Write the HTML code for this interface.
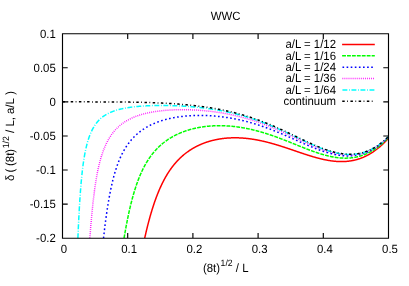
<!DOCTYPE html>
<html><head><meta charset="utf-8"><title>WWC</title>
<style>html,body{margin:0;padding:0;background:#fff;overflow:hidden}body{width:409px;height:286px;position:relative;font-family:"Liberation Sans",sans-serif}</style></head>
<body>
<div style="will-change:transform;position:absolute;left:0;top:0;width:409px;height:286px">
<svg width="409" height="286" viewBox="0 0 409 286" style="display:block;position:absolute;left:0;top:0" font-family="Liberation Sans, sans-serif" font-size="11.40" fill="#000" text-rendering="geometricPrecision">
<rect width="409" height="286" fill="#fff"/>
<defs><clipPath id="cp"><rect x="62.50" y="33.70" width="326.00" height="204.50"/></clipPath></defs>
<g fill="none" stroke-width="1.50" stroke-linejoin="round" clip-path="url(#cp)">
<polyline points="144.70,238.20 144.98,236.94 145.30,235.49 145.63,234.07 145.96,232.66 146.28,231.28 146.61,229.92 146.93,228.57 147.26,227.25 147.59,225.94 147.91,224.65 148.24,223.39 148.56,222.14 148.89,220.91 149.22,219.69 149.54,218.50 149.87,217.32 150.19,216.16 150.52,215.02 150.85,213.89 151.17,212.78 151.50,211.69 151.82,210.61 152.15,209.55 152.48,208.51 152.80,207.48 153.13,206.46 153.45,205.46 153.78,204.48 154.11,203.51 154.43,202.55 154.76,201.61 155.08,200.69 155.41,199.77 155.74,198.87 156.06,197.99 156.39,197.11 156.71,196.25 157.04,195.40 157.37,194.57 157.69,193.75 158.02,192.94 158.34,192.14 158.67,191.35 159.00,190.57 159.32,189.81 159.65,189.06 159.97,188.32 160.30,187.59 160.63,186.87 160.95,186.16 161.28,185.46 161.60,184.77 161.93,184.09 162.26,183.42 162.58,182.76 162.91,182.11 163.23,181.47 163.56,180.84 163.89,180.22 164.21,179.60 164.54,179.00 164.86,178.40 165.19,177.82 165.52,177.24 165.84,176.67 166.17,176.11 166.49,175.55 166.82,175.01 167.15,174.47 167.47,173.93 167.80,173.41 168.12,172.89 168.45,172.39 168.78,171.88 169.10,171.39 169.43,170.90 169.75,170.42 170.08,169.94 170.41,169.48 170.73,169.01 171.06,168.56 171.38,168.11 171.71,167.67 172.04,167.23 172.36,166.80 172.69,166.37 173.01,165.95 173.34,165.54 173.67,165.13 173.99,164.73 174.32,164.33 174.64,163.94 174.97,163.55 175.30,163.17 175.62,162.79 175.95,162.42 176.27,162.05 176.60,161.69 176.93,161.33 177.25,160.98 177.58,160.63 177.90,160.29 178.23,159.95 178.56,159.61 178.88,159.28 179.21,158.96 179.53,158.63 179.86,158.32 180.19,158.00 180.51,157.69 180.84,157.39 181.16,157.08 181.49,156.79 181.82,156.49 182.14,156.20 182.47,155.91 182.79,155.63 183.12,155.35 183.45,155.07 183.77,154.80 184.10,154.53 184.42,154.26 184.75,154.00 185.08,153.74 185.40,153.49 185.73,153.23 186.05,152.98 186.38,152.74 186.71,152.49 187.03,152.25 187.36,152.01 187.68,151.78 188.01,151.55 188.34,151.32 188.66,151.09 188.99,150.87 189.31,150.65 189.64,150.43 189.97,150.21 190.29,150.00 190.62,149.79 190.94,149.58 191.27,149.38 191.60,149.18 191.92,148.98 192.25,148.78 192.57,148.59 192.90,148.39 193.23,148.20 193.55,148.02 193.88,147.83 194.20,147.65 194.53,147.47 194.86,147.29 195.18,147.11 195.51,146.94 195.83,146.77 196.16,146.60 196.49,146.43 196.81,146.26 197.14,146.10 197.46,145.94 197.79,145.78 198.12,145.62 198.44,145.47 198.77,145.31 199.09,145.16 199.42,145.01 199.75,144.87 200.07,144.72 200.40,144.58 200.72,144.44 201.05,144.30 201.38,144.16 201.70,144.02 202.03,143.89 202.35,143.76 202.68,143.63 203.01,143.50 203.33,143.37 203.66,143.24 203.98,143.12 204.31,143.00 204.64,142.88 204.96,142.76 205.29,142.64 205.61,142.53 205.94,142.41 206.27,142.30 206.59,142.19 206.92,142.08 207.24,141.98 207.57,141.87 207.90,141.77 208.22,141.67 208.55,141.56 208.87,141.47 209.20,141.37 209.53,141.27 209.85,141.18 210.18,141.08 210.50,140.99 210.83,140.90 211.16,140.81 211.48,140.73 211.81,140.64 212.13,140.56 212.46,140.47 212.79,140.39 213.11,140.31 213.44,140.23 213.76,140.15 214.09,140.08 214.42,140.00 214.74,139.93 215.07,139.86 215.39,139.79 215.72,139.72 216.05,139.65 216.37,139.59 216.70,139.52 217.02,139.46 217.35,139.39 217.68,139.33 218.00,139.27 218.33,139.21 218.65,139.16 218.98,139.10 219.31,139.05 219.63,138.99 219.96,138.94 220.28,138.89 220.61,138.84 220.94,138.79 221.26,138.74 221.59,138.70 221.91,138.65 222.24,138.61 222.57,138.57 222.89,138.52 223.22,138.48 223.54,138.45 223.87,138.41 224.20,138.37 224.52,138.34 224.85,138.30 225.17,138.27 225.50,138.24 225.83,138.21 226.15,138.18 226.48,138.15 226.80,138.12 227.13,138.09 227.46,138.07 227.78,138.04 228.11,138.02 228.43,138.00 228.76,137.98 229.09,137.96 229.41,137.94 229.74,137.92 230.06,137.91 230.39,137.89 230.72,137.88 231.04,137.87 231.37,137.85 231.69,137.84 232.02,137.83 232.35,137.82 232.67,137.82 233.00,137.81 233.32,137.80 233.65,137.80 233.98,137.80 234.30,137.79 234.63,137.79 234.95,137.79 235.28,137.79 235.61,137.79 235.93,137.80 236.26,137.80 236.58,137.80 236.91,137.81 237.24,137.82 237.56,137.82 237.89,137.83 238.21,137.84 238.54,137.85 238.87,137.87 239.19,137.88 239.52,137.89 239.84,137.91 240.17,137.92 240.50,137.94 240.82,137.96 241.15,137.97 241.47,137.99 241.80,138.01 242.13,138.03 242.45,138.06 242.78,138.08 243.10,138.10 243.43,138.13 243.76,138.15 244.08,138.18 244.41,138.21 244.73,138.24 245.06,138.27 245.39,138.30 245.71,138.33 246.04,138.36 246.36,138.39 246.69,138.43 247.02,138.46 247.34,138.50 247.67,138.54 247.99,138.57 248.32,138.61 248.65,138.65 248.97,138.69 249.30,138.73 249.62,138.77 249.95,138.82 250.28,138.86 250.60,138.90 250.93,138.95 251.25,139.00 251.58,139.04 251.91,139.09 252.23,139.14 252.56,139.19 252.88,139.24 253.21,139.29 253.54,139.34 253.86,139.39 254.19,139.45 254.51,139.50 254.84,139.56 255.17,139.61 255.49,139.67 255.82,139.73 256.14,139.79 256.47,139.84 256.80,139.90 257.12,139.97 257.45,140.03 257.77,140.09 258.10,140.15 258.43,140.22 258.75,140.28 259.08,140.34 259.40,140.41 259.73,140.48 260.06,140.54 260.38,140.61 260.71,140.68 261.03,140.75 261.36,140.82 261.69,140.89 262.01,140.96 262.34,141.04 262.66,141.11 262.99,141.18 263.32,141.26 263.64,141.33 263.97,141.41 264.29,141.48 264.62,141.56 264.95,141.64 265.27,141.72 265.60,141.80 265.92,141.88 266.25,141.96 266.58,142.04 266.90,142.12 267.23,142.20 267.55,142.28 267.88,142.37 268.21,142.45 268.53,142.54 268.86,142.62 269.18,142.71 269.51,142.79 269.84,142.88 270.16,142.97 270.49,143.06 270.81,143.15 271.14,143.23 271.47,143.32 271.79,143.41 272.12,143.51 272.44,143.60 272.77,143.69 273.10,143.78 273.42,143.87 273.75,143.97 274.07,144.06 274.40,144.16 274.73,144.25 275.05,144.35 275.38,144.44 275.70,144.54 276.03,144.64 276.36,144.73 276.68,144.83 277.01,144.93 277.33,145.03 277.66,145.13 277.99,145.23 278.31,145.33 278.64,145.43 278.96,145.53 279.29,145.63 279.62,145.73 279.94,145.83 280.27,145.94 280.59,146.04 280.92,146.14 281.25,146.25 281.57,146.35 281.90,146.45 282.22,146.56 282.55,146.66 282.88,146.77 283.20,146.87 283.53,146.98 283.85,147.09 284.18,147.19 284.51,147.30 284.83,147.41 285.16,147.51 285.48,147.62 285.81,147.73 286.14,147.84 286.46,147.94 286.79,148.05 287.11,148.16 287.44,148.27 287.77,148.38 288.09,148.49 288.42,148.60 288.74,148.71 289.07,148.82 289.40,148.93 289.72,149.04 290.05,149.15 290.37,149.26 290.70,149.37 291.03,149.48 291.35,149.59 291.68,149.70 292.00,149.81 292.33,149.92 292.66,150.03 292.98,150.15 293.31,150.26 293.63,150.37 293.96,150.48 294.29,150.59 294.61,150.70 294.94,150.81 295.26,150.93 295.59,151.04 295.92,151.15 296.24,151.26 296.57,151.37 296.89,151.48 297.22,151.59 297.55,151.70 297.87,151.82 298.20,151.93 298.52,152.04 298.85,152.15 299.18,152.26 299.50,152.37 299.83,152.48 300.15,152.59 300.48,152.70 300.81,152.81 301.13,152.92 301.46,153.03 301.78,153.14 302.11,153.25 302.44,153.36 302.76,153.47 303.09,153.58 303.41,153.68 303.74,153.79 304.07,153.90 304.39,154.01 304.72,154.11 305.04,154.22 305.37,154.33 305.70,154.43 306.02,154.54 306.35,154.65 306.67,154.75 307.00,154.86 307.33,154.96 307.65,155.06 307.98,155.17 308.30,155.27 308.63,155.38 308.96,155.48 309.28,155.58 309.61,155.68 309.93,155.78 310.26,155.88 310.59,155.98 310.91,156.08 311.24,156.18 311.56,156.28 311.89,156.38 312.22,156.48 312.54,156.57 312.87,156.67 313.19,156.77 313.52,156.86 313.85,156.96 314.17,157.05 314.50,157.15 314.82,157.24 315.15,157.33 315.48,157.42 315.80,157.51 316.13,157.60 316.45,157.69 316.78,157.78 317.11,157.87 317.43,157.96 317.76,158.05 318.08,158.13 318.41,158.22 318.74,158.30 319.06,158.39 319.39,158.47 319.71,158.55 320.04,158.63 320.37,158.71 320.69,158.79 321.02,158.87 321.34,158.95 321.67,159.03 322.00,159.10 322.32,159.18 322.65,159.25 322.97,159.33 323.30,159.40 323.63,159.47 323.95,159.54 324.28,159.61 324.60,159.68 324.93,159.75 325.26,159.81 325.58,159.88 325.91,159.94 326.23,160.01 326.56,160.07 326.89,160.13 327.21,160.19 327.54,160.25 327.86,160.31 328.19,160.37 328.52,160.42 328.84,160.48 329.17,160.53 329.49,160.58 329.82,160.63 330.15,160.68 330.47,160.73 330.80,160.78 331.12,160.83 331.45,160.87 331.78,160.92 332.10,160.96 332.43,161.00 332.75,161.04 333.08,161.08 333.41,161.12 333.73,161.15 334.06,161.19 334.38,161.22 334.71,161.25 335.04,161.28 335.36,161.31 335.69,161.34 336.01,161.37 336.34,161.39 336.67,161.41 336.99,161.44 337.32,161.46 337.64,161.48 337.97,161.49 338.30,161.51 338.62,161.52 338.95,161.54 339.27,161.55 339.60,161.56 339.93,161.57 340.25,161.57 340.58,161.58 340.90,161.58 341.23,161.58 341.56,161.58 341.88,161.58 342.21,161.58 342.53,161.58 342.86,161.57 343.19,161.56 343.51,161.55 343.84,161.54 344.16,161.53 344.49,161.51 344.82,161.50 345.14,161.48 345.47,161.46 345.79,161.43 346.12,161.41 346.45,161.38 346.77,161.36 347.10,161.33 347.42,161.30 347.75,161.26 348.08,161.23 348.40,161.19 348.73,161.15 349.05,161.11 349.38,161.07 349.71,161.02 350.03,160.98 350.36,160.93 350.68,160.88 351.01,160.82 351.34,160.77 351.66,160.71 351.99,160.65 352.31,160.59 352.64,160.53 352.97,160.47 353.29,160.40 353.62,160.33 353.94,160.26 354.27,160.19 354.60,160.11 354.92,160.03 355.25,159.95 355.57,159.87 355.90,159.79 356.23,159.70 356.55,159.61 356.88,159.52 357.20,159.43 357.53,159.33 357.86,159.23 358.18,159.13 358.51,159.03 358.83,158.93 359.16,158.82 359.49,158.71 359.81,158.60 360.14,158.49 360.46,158.37 360.79,158.25 361.12,158.13 361.44,158.01 361.77,157.88 362.09,157.75 362.42,157.62 362.75,157.49 363.07,157.35 363.40,157.22 363.72,157.08 364.05,156.93 364.38,156.79 364.70,156.64 365.03,156.49 365.35,156.34 365.68,156.18 366.01,156.02 366.33,155.86 366.66,155.70 366.98,155.53 367.31,155.36 367.64,155.19 367.96,155.02 368.29,154.84 368.61,154.66 368.94,154.48 369.27,154.29 369.59,154.11 369.92,153.92 370.24,153.72 370.57,153.53 370.90,153.33 371.22,153.13 371.55,152.92 371.87,152.72 372.20,152.51 372.53,152.30 372.85,152.08 373.18,151.86 373.50,151.64 373.83,151.42 374.16,151.19 374.48,150.96 374.81,150.73 375.13,150.49 375.46,150.25 375.79,150.01 376.11,149.77 376.44,149.52 376.76,149.27 377.09,149.02 377.42,148.76 377.74,148.50 378.07,148.24 378.39,147.98 378.72,147.71 379.05,147.44 379.37,147.16 379.70,146.88 380.02,146.60 380.35,146.32 380.68,146.03 381.00,145.74 381.33,145.45 381.65,145.15 381.98,144.85 382.31,144.55 382.63,144.25 382.96,143.94 383.28,143.63 383.61,143.31 383.94,142.99 384.26,142.67 384.59,142.34 384.91,142.02 385.24,141.68 385.57,141.35 385.89,141.01 386.22,140.67 386.54,140.32 386.87,139.98 387.20,139.62 387.52,139.27 387.85,138.91 388.17,138.55 388.50,138.18" stroke="#ff0000"/>
<polyline points="124.07,238.20 124.11,237.95 124.44,235.99 124.77,234.07 125.09,232.18 125.42,230.33 125.74,228.51 126.07,226.73 126.40,224.98 126.72,223.27 127.05,221.59 127.37,219.94 127.70,218.33 128.03,216.74 128.35,215.19 128.68,213.66 129.00,212.17 129.33,210.70 129.66,209.26 129.98,207.85 130.31,206.47 130.63,205.12 130.96,203.79 131.29,202.48 131.61,201.21 131.94,199.95 132.26,198.72 132.59,197.52 132.92,196.34 133.24,195.18 133.57,194.04 133.89,192.93 134.22,191.83 134.55,190.76 134.87,189.71 135.20,188.68 135.52,187.67 135.85,186.67 136.18,185.70 136.50,184.74 136.83,183.81 137.15,182.89 137.48,181.98 137.81,181.10 138.13,180.23 138.46,179.38 138.78,178.54 139.11,177.72 139.44,176.91 139.76,176.12 140.09,175.34 140.41,174.57 140.74,173.82 141.07,173.09 141.39,172.36 141.72,171.65 142.04,170.96 142.37,170.27 142.70,169.60 143.02,168.94 143.35,168.29 143.67,167.65 144.00,167.02 144.33,166.40 144.65,165.79 144.98,165.20 145.30,164.61 145.63,164.03 145.96,163.47 146.28,162.91 146.61,162.36 146.93,161.82 147.26,161.29 147.59,160.77 147.91,160.25 148.24,159.75 148.56,159.25 148.89,158.76 149.22,158.28 149.54,157.80 149.87,157.34 150.19,156.88 150.52,156.43 150.85,155.98 151.17,155.54 151.50,155.11 151.82,154.68 152.15,154.26 152.48,153.85 152.80,153.44 153.13,153.04 153.45,152.65 153.78,152.26 154.11,151.87 154.43,151.49 154.76,151.12 155.08,150.75 155.41,150.39 155.74,150.03 156.06,149.68 156.39,149.33 156.71,148.99 157.04,148.65 157.37,148.32 157.69,147.99 158.02,147.66 158.34,147.34 158.67,147.03 159.00,146.72 159.32,146.41 159.65,146.11 159.97,145.81 160.30,145.51 160.63,145.22 160.95,144.93 161.28,144.65 161.60,144.37 161.93,144.09 162.26,143.82 162.58,143.55 162.91,143.28 163.23,143.02 163.56,142.76 163.89,142.51 164.21,142.25 164.54,142.00 164.86,141.76 165.19,141.51 165.52,141.27 165.84,141.03 166.17,140.80 166.49,140.57 166.82,140.34 167.15,140.11 167.47,139.89 167.80,139.67 168.12,139.45 168.45,139.24 168.78,139.02 169.10,138.81 169.43,138.61 169.75,138.40 170.08,138.20 170.41,138.00 170.73,137.80 171.06,137.61 171.38,137.41 171.71,137.22 172.04,137.04 172.36,136.85 172.69,136.67 173.01,136.49 173.34,136.31 173.67,136.13 173.99,135.95 174.32,135.78 174.64,135.61 174.97,135.44 175.30,135.28 175.62,135.11 175.95,134.95 176.27,134.79 176.60,134.63 176.93,134.47 177.25,134.32 177.58,134.16 177.90,134.01 178.23,133.86 178.56,133.72 178.88,133.57 179.21,133.43 179.53,133.28 179.86,133.14 180.19,133.01 180.51,132.87 180.84,132.73 181.16,132.60 181.49,132.47 181.82,132.34 182.14,132.21 182.47,132.08 182.79,131.96 183.12,131.83 183.45,131.71 183.77,131.59 184.10,131.47 184.42,131.35 184.75,131.24 185.08,131.12 185.40,131.01 185.73,130.90 186.05,130.79 186.38,130.68 186.71,130.57 187.03,130.47 187.36,130.36 187.68,130.26 188.01,130.16 188.34,130.06 188.66,129.96 188.99,129.86 189.31,129.77 189.64,129.67 189.97,129.58 190.29,129.49 190.62,129.39 190.94,129.31 191.27,129.22 191.60,129.13 191.92,129.04 192.25,128.96 192.57,128.88 192.90,128.80 193.23,128.71 193.55,128.64 193.88,128.56 194.20,128.48 194.53,128.40 194.86,128.33 195.18,128.26 195.51,128.18 195.83,128.11 196.16,128.04 196.49,127.97 196.81,127.91 197.14,127.84 197.46,127.78 197.79,127.71 198.12,127.65 198.44,127.59 198.77,127.53 199.09,127.47 199.42,127.41 199.75,127.35 200.07,127.29 200.40,127.24 200.72,127.18 201.05,127.13 201.38,127.08 201.70,127.03 202.03,126.98 202.35,126.93 202.68,126.88 203.01,126.83 203.33,126.79 203.66,126.74 203.98,126.70 204.31,126.65 204.64,126.61 204.96,126.57 205.29,126.53 205.61,126.49 205.94,126.45 206.27,126.42 206.59,126.38 206.92,126.35 207.24,126.31 207.57,126.28 207.90,126.25 208.22,126.22 208.55,126.19 208.87,126.16 209.20,126.13 209.53,126.10 209.85,126.07 210.18,126.05 210.50,126.02 210.83,126.00 211.16,125.98 211.48,125.96 211.81,125.94 212.13,125.92 212.46,125.90 212.79,125.88 213.11,125.86 213.44,125.84 213.76,125.83 214.09,125.81 214.42,125.80 214.74,125.79 215.07,125.78 215.39,125.76 215.72,125.75 216.05,125.75 216.37,125.74 216.70,125.73 217.02,125.72 217.35,125.72 217.68,125.71 218.00,125.71 218.33,125.70 218.65,125.70 218.98,125.70 219.31,125.70 219.63,125.70 219.96,125.70 220.28,125.70 220.61,125.71 220.94,125.71 221.26,125.71 221.59,125.72 221.91,125.72 222.24,125.73 222.57,125.74 222.89,125.75 223.22,125.76 223.54,125.77 223.87,125.78 224.20,125.79 224.52,125.80 224.85,125.81 225.17,125.83 225.50,125.84 225.83,125.86 226.15,125.88 226.48,125.89 226.80,125.91 227.13,125.93 227.46,125.95 227.78,125.97 228.11,125.99 228.43,126.01 228.76,126.04 229.09,126.06 229.41,126.09 229.74,126.11 230.06,126.14 230.39,126.16 230.72,126.19 231.04,126.22 231.37,126.25 231.69,126.28 232.02,126.31 232.35,126.34 232.67,126.37 233.00,126.41 233.32,126.44 233.65,126.48 233.98,126.51 234.30,126.55 234.63,126.59 234.95,126.62 235.28,126.66 235.61,126.70 235.93,126.74 236.26,126.78 236.58,126.82 236.91,126.87 237.24,126.91 237.56,126.95 237.89,127.00 238.21,127.04 238.54,127.09 238.87,127.14 239.19,127.18 239.52,127.23 239.84,127.28 240.17,127.33 240.50,127.38 240.82,127.43 241.15,127.48 241.47,127.54 241.80,127.59 242.13,127.64 242.45,127.70 242.78,127.75 243.10,127.81 243.43,127.87 243.76,127.93 244.08,127.98 244.41,128.04 244.73,128.10 245.06,128.17 245.39,128.23 245.71,128.29 246.04,128.35 246.36,128.42 246.69,128.48 247.02,128.54 247.34,128.61 247.67,128.68 247.99,128.74 248.32,128.81 248.65,128.88 248.97,128.95 249.30,129.02 249.62,129.09 249.95,129.16 250.28,129.23 250.60,129.31 250.93,129.38 251.25,129.45 251.58,129.53 251.91,129.60 252.23,129.68 252.56,129.76 252.88,129.84 253.21,129.91 253.54,129.99 253.86,130.07 254.19,130.15 254.51,130.23 254.84,130.31 255.17,130.40 255.49,130.48 255.82,130.56 256.14,130.65 256.47,130.73 256.80,130.82 257.12,130.90 257.45,130.99 257.77,131.08 258.10,131.17 258.43,131.26 258.75,131.35 259.08,131.44 259.40,131.53 259.73,131.62 260.06,131.71 260.38,131.80 260.71,131.89 261.03,131.99 261.36,132.08 261.69,132.18 262.01,132.27 262.34,132.37 262.66,132.47 262.99,132.56 263.32,132.66 263.64,132.76 263.97,132.86 264.29,132.96 264.62,133.06 264.95,133.16 265.27,133.26 265.60,133.36 265.92,133.47 266.25,133.57 266.58,133.67 266.90,133.78 267.23,133.88 267.55,133.99 267.88,134.09 268.21,134.20 268.53,134.31 268.86,134.41 269.18,134.52 269.51,134.63 269.84,134.74 270.16,134.85 270.49,134.96 270.81,135.07 271.14,135.18 271.47,135.29 271.79,135.41 272.12,135.52 272.44,135.63 272.77,135.75 273.10,135.86 273.42,135.97 273.75,136.09 274.07,136.20 274.40,136.32 274.73,136.44 275.05,136.55 275.38,136.67 275.70,136.79 276.03,136.91 276.36,137.02 276.68,137.14 277.01,137.26 277.33,137.38 277.66,137.50 277.99,137.62 278.31,137.74 278.64,137.87 278.96,137.99 279.29,138.11 279.62,138.23 279.94,138.35 280.27,138.48 280.59,138.60 280.92,138.72 281.25,138.85 281.57,138.97 281.90,139.10 282.22,139.22 282.55,139.35 282.88,139.47 283.20,139.60 283.53,139.73 283.85,139.85 284.18,139.98 284.51,140.11 284.83,140.23 285.16,140.36 285.48,140.49 285.81,140.62 286.14,140.75 286.46,140.87 286.79,141.00 287.11,141.13 287.44,141.26 287.77,141.39 288.09,141.52 288.42,141.65 288.74,141.78 289.07,141.91 289.40,142.04 289.72,142.17 290.05,142.30 290.37,142.43 290.70,142.56 291.03,142.69 291.35,142.83 291.68,142.96 292.00,143.09 292.33,143.22 292.66,143.35 292.98,143.48 293.31,143.61 293.63,143.74 293.96,143.88 294.29,144.01 294.61,144.14 294.94,144.27 295.26,144.40 295.59,144.53 295.92,144.67 296.24,144.80 296.57,144.93 296.89,145.06 297.22,145.19 297.55,145.32 297.87,145.46 298.20,145.59 298.52,145.72 298.85,145.85 299.18,145.98 299.50,146.11 299.83,146.24 300.15,146.37 300.48,146.50 300.81,146.63 301.13,146.76 301.46,146.89 301.78,147.02 302.11,147.15 302.44,147.28 302.76,147.41 303.09,147.54 303.41,147.67 303.74,147.80 304.07,147.93 304.39,148.05 304.72,148.18 305.04,148.31 305.37,148.44 305.70,148.56 306.02,148.69 306.35,148.82 306.67,148.94 307.00,149.07 307.33,149.19 307.65,149.32 307.98,149.44 308.30,149.57 308.63,149.69 308.96,149.81 309.28,149.94 309.61,150.06 309.93,150.18 310.26,150.30 310.59,150.42 310.91,150.54 311.24,150.66 311.56,150.78 311.89,150.90 312.22,151.02 312.54,151.14 312.87,151.25 313.19,151.37 313.52,151.49 313.85,151.60 314.17,151.72 314.50,151.83 314.82,151.95 315.15,152.06 315.48,152.17 315.80,152.28 316.13,152.40 316.45,152.51 316.78,152.62 317.11,152.73 317.43,152.83 317.76,152.94 318.08,153.05 318.41,153.15 318.74,153.26 319.06,153.37 319.39,153.47 319.71,153.57 320.04,153.67 320.37,153.78 320.69,153.88 321.02,153.98 321.34,154.08 321.67,154.17 322.00,154.27 322.32,154.37 322.65,154.46 322.97,154.56 323.30,154.65 323.63,154.74 323.95,154.84 324.28,154.93 324.60,155.02 324.93,155.10 325.26,155.19 325.58,155.28 325.91,155.36 326.23,155.45 326.56,155.53 326.89,155.62 327.21,155.70 327.54,155.78 327.86,155.86 328.19,155.93 328.52,156.01 328.84,156.09 329.17,156.16 329.49,156.24 329.82,156.31 330.15,156.38 330.47,156.45 330.80,156.52 331.12,156.59 331.45,156.65 331.78,156.72 332.10,156.78 332.43,156.84 332.75,156.90 333.08,156.96 333.41,157.02 333.73,157.08 334.06,157.14 334.38,157.19 334.71,157.24 335.04,157.29 335.36,157.34 335.69,157.39 336.01,157.44 336.34,157.49 336.67,157.53 336.99,157.57 337.32,157.62 337.64,157.66 337.97,157.69 338.30,157.73 338.62,157.77 338.95,157.80 339.27,157.83 339.60,157.86 339.93,157.89 340.25,157.92 340.58,157.95 340.90,157.97 341.23,158.00 341.56,158.02 341.88,158.04 342.21,158.05 342.53,158.07 342.86,158.08 343.19,158.10 343.51,158.11 343.84,158.12 344.16,158.13 344.49,158.13 344.82,158.14 345.14,158.14 345.47,158.14 345.79,158.14 346.12,158.13 346.45,158.13 346.77,158.12 347.10,158.11 347.42,158.10 347.75,158.09 348.08,158.07 348.40,158.06 348.73,158.04 349.05,158.02 349.38,158.00 349.71,157.97 350.03,157.95 350.36,157.92 350.68,157.89 351.01,157.86 351.34,157.82 351.66,157.79 351.99,157.75 352.31,157.71 352.64,157.66 352.97,157.62 353.29,157.57 353.62,157.52 353.94,157.47 354.27,157.42 354.60,157.37 354.92,157.31 355.25,157.25 355.57,157.19 355.90,157.12 356.23,157.06 356.55,156.99 356.88,156.92 357.20,156.84 357.53,156.77 357.86,156.69 358.18,156.61 358.51,156.53 358.83,156.44 359.16,156.36 359.49,156.27 359.81,156.18 360.14,156.08 360.46,155.98 360.79,155.89 361.12,155.78 361.44,155.68 361.77,155.57 362.09,155.47 362.42,155.35 362.75,155.24 363.07,155.12 363.40,155.01 363.72,154.89 364.05,154.76 364.38,154.64 364.70,154.51 365.03,154.38 365.35,154.24 365.68,154.10 366.01,153.97 366.33,153.82 366.66,153.68 366.98,153.53 367.31,153.38 367.64,153.23 367.96,153.08 368.29,152.92 368.61,152.76 368.94,152.59 369.27,152.43 369.59,152.26 369.92,152.09 370.24,151.91 370.57,151.74 370.90,151.56 371.22,151.37 371.55,151.19 371.87,151.00 372.20,150.81 372.53,150.62 372.85,150.42 373.18,150.22 373.50,150.02 373.83,149.81 374.16,149.60 374.48,149.39 374.81,149.18 375.13,148.96 375.46,148.74 375.79,148.52 376.11,148.29 376.44,148.06 376.76,147.83 377.09,147.59 377.42,147.36 377.74,147.11 378.07,146.87 378.39,146.62 378.72,146.37 379.05,146.12 379.37,145.86 379.70,145.60 380.02,145.34 380.35,145.07 380.68,144.80 381.00,144.53 381.33,144.25 381.65,143.98 381.98,143.69 382.31,143.41 382.63,143.12 382.96,142.83 383.28,142.53 383.61,142.23 383.94,141.93 384.26,141.63 384.59,141.32 384.91,141.01 385.24,140.69 385.57,140.37 385.89,140.05 386.22,139.73 386.54,139.40 386.87,139.07 387.20,138.73 387.52,138.39 387.85,138.05 388.17,137.71 388.50,137.36" stroke="#00ff00" stroke-dasharray="3.830,1.090"/>
<polyline points="103.53,238.20 103.58,237.79 103.90,234.86 104.23,232.01 104.55,229.25 104.88,226.56 105.21,223.94 105.53,221.40 105.86,218.94 106.18,216.54 106.51,214.21 106.84,211.96 107.16,209.76 107.49,207.63 107.81,205.56 108.14,203.55 108.47,201.60 108.79,199.70 109.12,197.86 109.44,196.07 109.77,194.33 110.10,192.65 110.42,191.01 110.75,189.41 111.07,187.86 111.40,186.36 111.73,184.90 112.05,183.48 112.38,182.09 112.70,180.75 113.03,179.44 113.36,178.17 113.68,176.93 114.01,175.73 114.33,174.56 114.66,173.42 114.99,172.31 115.31,171.23 115.64,170.17 115.96,169.15 116.29,168.15 116.62,167.18 116.94,166.23 117.27,165.30 117.59,164.40 117.92,163.52 118.25,162.66 118.57,161.82 118.90,161.00 119.22,160.20 119.55,159.42 119.88,158.66 120.20,157.91 120.53,157.18 120.85,156.47 121.18,155.77 121.51,155.09 121.83,154.43 122.16,153.78 122.48,153.14 122.81,152.51 123.14,151.90 123.46,151.31 123.79,150.72 124.11,150.14 124.44,149.58 124.77,149.03 125.09,148.49 125.42,147.96 125.74,147.44 126.07,146.93 126.40,146.43 126.72,145.94 127.05,145.46 127.37,144.98 127.70,144.52 128.03,144.07 128.35,143.62 128.68,143.18 129.00,142.75 129.33,142.32 129.66,141.91 129.98,141.50 130.31,141.09 130.63,140.70 130.96,140.31 131.29,139.92 131.61,139.55 131.94,139.18 132.26,138.81 132.59,138.46 132.92,138.10 133.24,137.76 133.57,137.42 133.89,137.08 134.22,136.75 134.55,136.42 134.87,136.10 135.20,135.79 135.52,135.48 135.85,135.17 136.18,134.87 136.50,134.57 136.83,134.28 137.15,133.99 137.48,133.71 137.81,133.43 138.13,133.15 138.46,132.88 138.78,132.61 139.11,132.35 139.44,132.09 139.76,131.83 140.09,131.58 140.41,131.33 140.74,131.09 141.07,130.85 141.39,130.61 141.72,130.37 142.04,130.14 142.37,129.91 142.70,129.69 143.02,129.47 143.35,129.25 143.67,129.03 144.00,128.82 144.33,128.61 144.65,128.40 144.98,128.20 145.30,127.99 145.63,127.79 145.96,127.60 146.28,127.40 146.61,127.21 146.93,127.03 147.26,126.84 147.59,126.66 147.91,126.48 148.24,126.30 148.56,126.12 148.89,125.95 149.22,125.77 149.54,125.61 149.87,125.44 150.19,125.27 150.52,125.11 150.85,124.95 151.17,124.79 151.50,124.64 151.82,124.48 152.15,124.33 152.48,124.18 152.80,124.03 153.13,123.89 153.45,123.74 153.78,123.60 154.11,123.46 154.43,123.32 154.76,123.18 155.08,123.05 155.41,122.91 155.74,122.78 156.06,122.65 156.39,122.52 156.71,122.40 157.04,122.27 157.37,122.15 157.69,122.03 158.02,121.91 158.34,121.79 158.67,121.67 159.00,121.56 159.32,121.44 159.65,121.33 159.97,121.22 160.30,121.11 160.63,121.00 160.95,120.90 161.28,120.79 161.60,120.69 161.93,120.59 162.26,120.48 162.58,120.39 162.91,120.29 163.23,120.19 163.56,120.09 163.89,120.00 164.21,119.91 164.54,119.82 164.86,119.73 165.19,119.64 165.52,119.55 165.84,119.46 166.17,119.38 166.49,119.29 166.82,119.21 167.15,119.13 167.47,119.05 167.80,118.97 168.12,118.89 168.45,118.81 168.78,118.73 169.10,118.66 169.43,118.58 169.75,118.51 170.08,118.44 170.41,118.37 170.73,118.30 171.06,118.23 171.38,118.16 171.71,118.09 172.04,118.03 172.36,117.96 172.69,117.90 173.01,117.84 173.34,117.77 173.67,117.71 173.99,117.65 174.32,117.59 174.64,117.54 174.97,117.48 175.30,117.42 175.62,117.37 175.95,117.31 176.27,117.26 176.60,117.21 176.93,117.16 177.25,117.11 177.58,117.06 177.90,117.01 178.23,116.96 178.56,116.91 178.88,116.86 179.21,116.82 179.53,116.77 179.86,116.73 180.19,116.69 180.51,116.64 180.84,116.60 181.16,116.56 181.49,116.52 181.82,116.48 182.14,116.45 182.47,116.41 182.79,116.37 183.12,116.34 183.45,116.30 183.77,116.27 184.10,116.23 184.42,116.20 184.75,116.17 185.08,116.14 185.40,116.11 185.73,116.08 186.05,116.05 186.38,116.02 186.71,115.99 187.03,115.96 187.36,115.94 187.68,115.91 188.01,115.89 188.34,115.86 188.66,115.84 188.99,115.82 189.31,115.80 189.64,115.78 189.97,115.76 190.29,115.74 190.62,115.72 190.94,115.70 191.27,115.68 191.60,115.66 191.92,115.65 192.25,115.63 192.57,115.62 192.90,115.60 193.23,115.59 193.55,115.58 193.88,115.56 194.20,115.55 194.53,115.54 194.86,115.53 195.18,115.52 195.51,115.51 195.83,115.50 196.16,115.50 196.49,115.49 196.81,115.48 197.14,115.48 197.46,115.47 197.79,115.47 198.12,115.46 198.44,115.46 198.77,115.46 199.09,115.46 199.42,115.45 199.75,115.45 200.07,115.45 200.40,115.45 200.72,115.46 201.05,115.46 201.38,115.46 201.70,115.46 202.03,115.47 202.35,115.47 202.68,115.48 203.01,115.48 203.33,115.49 203.66,115.49 203.98,115.50 204.31,115.51 204.64,115.52 204.96,115.53 205.29,115.54 205.61,115.55 205.94,115.56 206.27,115.57 206.59,115.58 206.92,115.59 207.24,115.61 207.57,115.62 207.90,115.64 208.22,115.65 208.55,115.67 208.87,115.68 209.20,115.70 209.53,115.72 209.85,115.74 210.18,115.76 210.50,115.77 210.83,115.79 211.16,115.81 211.48,115.84 211.81,115.86 212.13,115.88 212.46,115.90 212.79,115.93 213.11,115.95 213.44,115.97 213.76,116.00 214.09,116.03 214.42,116.05 214.74,116.08 215.07,116.11 215.39,116.13 215.72,116.16 216.05,116.19 216.37,116.22 216.70,116.25 217.02,116.28 217.35,116.32 217.68,116.35 218.00,116.38 218.33,116.41 218.65,116.45 218.98,116.48 219.31,116.52 219.63,116.55 219.96,116.59 220.28,116.63 220.61,116.66 220.94,116.70 221.26,116.74 221.59,116.78 221.91,116.82 222.24,116.86 222.57,116.90 222.89,116.94 223.22,116.98 223.54,117.03 223.87,117.07 224.20,117.11 224.52,117.16 224.85,117.20 225.17,117.25 225.50,117.29 225.83,117.34 226.15,117.39 226.48,117.44 226.80,117.48 227.13,117.53 227.46,117.58 227.78,117.63 228.11,117.68 228.43,117.74 228.76,117.79 229.09,117.84 229.41,117.89 229.74,117.95 230.06,118.00 230.39,118.06 230.72,118.11 231.04,118.17 231.37,118.23 231.69,118.28 232.02,118.34 232.35,118.40 232.67,118.46 233.00,118.52 233.32,118.58 233.65,118.64 233.98,118.70 234.30,118.76 234.63,118.83 234.95,118.89 235.28,118.95 235.61,119.02 235.93,119.08 236.26,119.15 236.58,119.21 236.91,119.28 237.24,119.35 237.56,119.42 237.89,119.48 238.21,119.55 238.54,119.62 238.87,119.69 239.19,119.76 239.52,119.84 239.84,119.91 240.17,119.98 240.50,120.05 240.82,120.13 241.15,120.20 241.47,120.28 241.80,120.35 242.13,120.43 242.45,120.51 242.78,120.58 243.10,120.66 243.43,120.74 243.76,120.82 244.08,120.90 244.41,120.98 244.73,121.06 245.06,121.14 245.39,121.23 245.71,121.31 246.04,121.39 246.36,121.48 246.69,121.56 247.02,121.65 247.34,121.73 247.67,121.82 247.99,121.90 248.32,121.99 248.65,122.08 248.97,122.17 249.30,122.26 249.62,122.35 249.95,122.44 250.28,122.53 250.60,122.62 250.93,122.71 251.25,122.81 251.58,122.90 251.91,122.99 252.23,123.09 252.56,123.18 252.88,123.28 253.21,123.38 253.54,123.47 253.86,123.57 254.19,123.67 254.51,123.77 254.84,123.87 255.17,123.97 255.49,124.07 255.82,124.17 256.14,124.27 256.47,124.37 256.80,124.47 257.12,124.58 257.45,124.68 257.77,124.79 258.10,124.89 258.43,125.00 258.75,125.10 259.08,125.21 259.40,125.32 259.73,125.42 260.06,125.53 260.38,125.64 260.71,125.75 261.03,125.86 261.36,125.97 261.69,126.08 262.01,126.19 262.34,126.31 262.66,126.42 262.99,126.53 263.32,126.65 263.64,126.76 263.97,126.88 264.29,126.99 264.62,127.11 264.95,127.22 265.27,127.34 265.60,127.46 265.92,127.58 266.25,127.69 266.58,127.81 266.90,127.93 267.23,128.05 267.55,128.17 267.88,128.30 268.21,128.42 268.53,128.54 268.86,128.66 269.18,128.78 269.51,128.91 269.84,129.03 270.16,129.16 270.49,129.28 270.81,129.41 271.14,129.53 271.47,129.66 271.79,129.79 272.12,129.91 272.44,130.04 272.77,130.17 273.10,130.30 273.42,130.43 273.75,130.56 274.07,130.69 274.40,130.82 274.73,130.95 275.05,131.08 275.38,131.21 275.70,131.34 276.03,131.47 276.36,131.61 276.68,131.74 277.01,131.87 277.33,132.01 277.66,132.14 277.99,132.28 278.31,132.41 278.64,132.55 278.96,132.68 279.29,132.82 279.62,132.96 279.94,133.09 280.27,133.23 280.59,133.37 280.92,133.51 281.25,133.64 281.57,133.78 281.90,133.92 282.22,134.06 282.55,134.20 282.88,134.34 283.20,134.48 283.53,134.62 283.85,134.76 284.18,134.90 284.51,135.04 284.83,135.19 285.16,135.33 285.48,135.47 285.81,135.61 286.14,135.75 286.46,135.90 286.79,136.04 287.11,136.18 287.44,136.33 287.77,136.47 288.09,136.61 288.42,136.76 288.74,136.90 289.07,137.04 289.40,137.19 289.72,137.33 290.05,137.48 290.37,137.62 290.70,137.77 291.03,137.91 291.35,138.06 291.68,138.20 292.00,138.35 292.33,138.49 292.66,138.64 292.98,138.78 293.31,138.93 293.63,139.08 293.96,139.22 294.29,139.37 294.61,139.51 294.94,139.66 295.26,139.80 295.59,139.95 295.92,140.10 296.24,140.24 296.57,140.39 296.89,140.53 297.22,140.68 297.55,140.83 297.87,140.97 298.20,141.12 298.52,141.26 298.85,141.41 299.18,141.55 299.50,141.70 299.83,141.84 300.15,141.99 300.48,142.13 300.81,142.28 301.13,142.42 301.46,142.57 301.78,142.71 302.11,142.86 302.44,143.00 302.76,143.14 303.09,143.29 303.41,143.43 303.74,143.57 304.07,143.72 304.39,143.86 304.72,144.00 305.04,144.14 305.37,144.28 305.70,144.43 306.02,144.57 306.35,144.71 306.67,144.85 307.00,144.99 307.33,145.13 307.65,145.27 307.98,145.41 308.30,145.55 308.63,145.68 308.96,145.82 309.28,145.96 309.61,146.10 309.93,146.23 310.26,146.37 310.59,146.50 310.91,146.64 311.24,146.77 311.56,146.91 311.89,147.04 312.22,147.18 312.54,147.31 312.87,147.44 313.19,147.57 313.52,147.70 313.85,147.83 314.17,147.96 314.50,148.09 314.82,148.22 315.15,148.35 315.48,148.48 315.80,148.61 316.13,148.73 316.45,148.86 316.78,148.98 317.11,149.11 317.43,149.23 317.76,149.35 318.08,149.48 318.41,149.60 318.74,149.72 319.06,149.84 319.39,149.96 319.71,150.07 320.04,150.19 320.37,150.31 320.69,150.42 321.02,150.54 321.34,150.65 321.67,150.77 322.00,150.88 322.32,150.99 322.65,151.10 322.97,151.21 323.30,151.32 323.63,151.43 323.95,151.53 324.28,151.64 324.60,151.75 324.93,151.85 325.26,151.95 325.58,152.05 325.91,152.16 326.23,152.26 326.56,152.35 326.89,152.45 327.21,152.55 327.54,152.64 327.86,152.74 328.19,152.83 328.52,152.92 328.84,153.02 329.17,153.11 329.49,153.19 329.82,153.28 330.15,153.37 330.47,153.45 330.80,153.54 331.12,153.62 331.45,153.70 331.78,153.78 332.10,153.86 332.43,153.94 332.75,154.02 333.08,154.09 333.41,154.16 333.73,154.24 334.06,154.31 334.38,154.38 334.71,154.45 335.04,154.51 335.36,154.58 335.69,154.64 336.01,154.71 336.34,154.77 336.67,154.83 336.99,154.88 337.32,154.94 337.64,155.00 337.97,155.05 338.30,155.10 338.62,155.15 338.95,155.20 339.27,155.25 339.60,155.30 339.93,155.34 340.25,155.38 340.58,155.43 340.90,155.47 341.23,155.50 341.56,155.54 341.88,155.57 342.21,155.61 342.53,155.64 342.86,155.67 343.19,155.70 343.51,155.72 343.84,155.75 344.16,155.77 344.49,155.79 344.82,155.81 345.14,155.83 345.47,155.84 345.79,155.86 346.12,155.87 346.45,155.88 346.77,155.89 347.10,155.89 347.42,155.90 347.75,155.90 348.08,155.90 348.40,155.90 348.73,155.89 349.05,155.89 349.38,155.88 349.71,155.87 350.03,155.86 350.36,155.85 350.68,155.83 351.01,155.82 351.34,155.80 351.66,155.77 351.99,155.75 352.31,155.73 352.64,155.70 352.97,155.67 353.29,155.64 353.62,155.60 353.94,155.57 354.27,155.53 354.60,155.49 354.92,155.44 355.25,155.40 355.57,155.35 355.90,155.30 356.23,155.25 356.55,155.20 356.88,155.14 357.20,155.08 357.53,155.02 357.86,154.96 358.18,154.89 358.51,154.82 358.83,154.75 359.16,154.68 359.49,154.60 359.81,154.53 360.14,154.45 360.46,154.37 360.79,154.28 361.12,154.19 361.44,154.10 361.77,154.01 362.09,153.92 362.42,153.82 362.75,153.72 363.07,153.62 363.40,153.51 363.72,153.41 364.05,153.30 364.38,153.19 364.70,153.07 365.03,152.95 365.35,152.83 365.68,152.71 366.01,152.59 366.33,152.46 366.66,152.33 366.98,152.19 367.31,152.06 367.64,151.92 367.96,151.78 368.29,151.63 368.61,151.49 368.94,151.34 369.27,151.18 369.59,151.03 369.92,150.87 370.24,150.71 370.57,150.55 370.90,150.38 371.22,150.21 371.55,150.04 371.87,149.87 372.20,149.69 372.53,149.51 372.85,149.32 373.18,149.14 373.50,148.95 373.83,148.76 374.16,148.56 374.48,148.36 374.81,148.16 375.13,147.96 375.46,147.75 375.79,147.54 376.11,147.33 376.44,147.11 376.76,146.89 377.09,146.67 377.42,146.44 377.74,146.21 378.07,145.98 378.39,145.75 378.72,145.51 379.05,145.27 379.37,145.02 379.70,144.78 380.02,144.53 380.35,144.27 380.68,144.02 381.00,143.76 381.33,143.49 381.65,143.23 381.98,142.96 382.31,142.68 382.63,142.41 382.96,142.13 383.28,141.85 383.61,141.56 383.94,141.27 384.26,140.98 384.59,140.68 384.91,140.38 385.24,140.08 385.57,139.77 385.89,139.46 386.22,139.15 386.54,138.83 386.87,138.51 387.20,138.19 387.52,137.86 387.85,137.53 388.17,137.20 388.50,136.86" stroke="#0000ff" stroke-dasharray="1.640,2.460"/>
<polyline points="89.85,238.20 89.88,237.76 90.21,233.40 90.54,229.21 90.86,225.20 91.19,221.37 91.51,217.69 91.84,214.18 92.17,210.81 92.49,207.59 92.82,204.50 93.14,201.55 93.47,198.73 93.80,196.02 94.12,193.43 94.45,190.95 94.77,188.58 95.10,186.30 95.43,184.12 95.75,182.03 96.08,180.02 96.40,178.10 96.73,176.26 97.06,174.48 97.38,172.78 97.71,171.15 98.03,169.58 98.36,168.06 98.69,166.61 99.01,165.21 99.34,163.86 99.66,162.56 99.99,161.30 100.32,160.09 100.64,158.92 100.97,157.80 101.29,156.71 101.62,155.65 101.95,154.63 102.27,153.65 102.60,152.69 102.92,151.76 103.25,150.87 103.58,150.00 103.90,149.15 104.23,148.33 104.55,147.54 104.88,146.76 105.21,146.01 105.53,145.28 105.86,144.57 106.18,143.87 106.51,143.20 106.84,142.54 107.16,141.90 107.49,141.28 107.81,140.67 108.14,140.08 108.47,139.50 108.79,138.94 109.12,138.39 109.44,137.85 109.77,137.32 110.10,136.81 110.42,136.31 110.75,135.82 111.07,135.34 111.40,134.87 111.73,134.41 112.05,133.96 112.38,133.53 112.70,133.10 113.03,132.68 113.36,132.26 113.68,131.86 114.01,131.47 114.33,131.08 114.66,130.70 114.99,130.33 115.31,129.97 115.64,129.61 115.96,129.26 116.29,128.92 116.62,128.58 116.94,128.25 117.27,127.93 117.59,127.61 117.92,127.30 118.25,127.00 118.57,126.70 118.90,126.40 119.22,126.11 119.55,125.83 119.88,125.55 120.20,125.28 120.53,125.01 120.85,124.75 121.18,124.49 121.51,124.24 121.83,123.99 122.16,123.74 122.48,123.50 122.81,123.27 123.14,123.03 123.46,122.81 123.79,122.58 124.11,122.36 124.44,122.14 124.77,121.93 125.09,121.72 125.42,121.51 125.74,121.31 126.07,121.11 126.40,120.92 126.72,120.72 127.05,120.54 127.37,120.35 127.70,120.17 128.03,119.99 128.35,119.81 128.68,119.63 129.00,119.46 129.33,119.29 129.66,119.13 129.98,118.96 130.31,118.80 130.63,118.64 130.96,118.49 131.29,118.33 131.61,118.18 131.94,118.03 132.26,117.89 132.59,117.74 132.92,117.60 133.24,117.46 133.57,117.32 133.89,117.19 134.22,117.05 134.55,116.92 134.87,116.79 135.20,116.67 135.52,116.54 135.85,116.42 136.18,116.29 136.50,116.17 136.83,116.06 137.15,115.94 137.48,115.83 137.81,115.71 138.13,115.60 138.46,115.49 138.78,115.38 139.11,115.28 139.44,115.17 139.76,115.07 140.09,114.97 140.41,114.87 140.74,114.77 141.07,114.67 141.39,114.58 141.72,114.48 142.04,114.39 142.37,114.30 142.70,114.21 143.02,114.12 143.35,114.03 143.67,113.94 144.00,113.86 144.33,113.78 144.65,113.69 144.98,113.61 145.30,113.53 145.63,113.45 145.96,113.37 146.28,113.30 146.61,113.22 146.93,113.15 147.26,113.08 147.59,113.00 147.91,112.93 148.24,112.86 148.56,112.79 148.89,112.72 149.22,112.66 149.54,112.59 149.87,112.53 150.19,112.46 150.52,112.40 150.85,112.34 151.17,112.28 151.50,112.22 151.82,112.16 152.15,112.10 152.48,112.04 152.80,111.99 153.13,111.93 153.45,111.88 153.78,111.82 154.11,111.77 154.43,111.72 154.76,111.67 155.08,111.62 155.41,111.57 155.74,111.52 156.06,111.47 156.39,111.42 156.71,111.38 157.04,111.33 157.37,111.28 157.69,111.24 158.02,111.20 158.34,111.15 158.67,111.11 159.00,111.07 159.32,111.03 159.65,110.99 159.97,110.95 160.30,110.91 160.63,110.88 160.95,110.84 161.28,110.80 161.60,110.77 161.93,110.73 162.26,110.70 162.58,110.66 162.91,110.63 163.23,110.60 163.56,110.57 163.89,110.54 164.21,110.51 164.54,110.48 164.86,110.45 165.19,110.42 165.52,110.39 165.84,110.36 166.17,110.34 166.49,110.31 166.82,110.29 167.15,110.26 167.47,110.24 167.80,110.21 168.12,110.19 168.45,110.17 168.78,110.15 169.10,110.12 169.43,110.10 169.75,110.08 170.08,110.06 170.41,110.04 170.73,110.03 171.06,110.01 171.38,109.99 171.71,109.97 172.04,109.96 172.36,109.94 172.69,109.92 173.01,109.91 173.34,109.90 173.67,109.88 173.99,109.87 174.32,109.86 174.64,109.84 174.97,109.83 175.30,109.82 175.62,109.81 175.95,109.80 176.27,109.79 176.60,109.78 176.93,109.77 177.25,109.76 177.58,109.76 177.90,109.75 178.23,109.74 178.56,109.74 178.88,109.73 179.21,109.72 179.53,109.72 179.86,109.72 180.19,109.71 180.51,109.71 180.84,109.71 181.16,109.70 181.49,109.70 181.82,109.70 182.14,109.70 182.47,109.70 182.79,109.70 183.12,109.70 183.45,109.70 183.77,109.70 184.10,109.70 184.42,109.71 184.75,109.71 185.08,109.71 185.40,109.71 185.73,109.72 186.05,109.72 186.38,109.73 186.71,109.73 187.03,109.74 187.36,109.75 187.68,109.75 188.01,109.76 188.34,109.77 188.66,109.78 188.99,109.78 189.31,109.79 189.64,109.80 189.97,109.81 190.29,109.82 190.62,109.83 190.94,109.85 191.27,109.86 191.60,109.87 191.92,109.88 192.25,109.90 192.57,109.91 192.90,109.92 193.23,109.94 193.55,109.95 193.88,109.97 194.20,109.98 194.53,110.00 194.86,110.02 195.18,110.03 195.51,110.05 195.83,110.07 196.16,110.09 196.49,110.11 196.81,110.12 197.14,110.14 197.46,110.16 197.79,110.18 198.12,110.21 198.44,110.23 198.77,110.25 199.09,110.27 199.42,110.29 199.75,110.32 200.07,110.34 200.40,110.36 200.72,110.39 201.05,110.41 201.38,110.44 201.70,110.47 202.03,110.49 202.35,110.52 202.68,110.55 203.01,110.57 203.33,110.60 203.66,110.63 203.98,110.66 204.31,110.69 204.64,110.72 204.96,110.75 205.29,110.78 205.61,110.81 205.94,110.84 206.27,110.87 206.59,110.91 206.92,110.94 207.24,110.97 207.57,111.01 207.90,111.04 208.22,111.07 208.55,111.11 208.87,111.15 209.20,111.18 209.53,111.22 209.85,111.25 210.18,111.29 210.50,111.33 210.83,111.37 211.16,111.41 211.48,111.45 211.81,111.49 212.13,111.53 212.46,111.57 212.79,111.61 213.11,111.65 213.44,111.69 213.76,111.73 214.09,111.78 214.42,111.82 214.74,111.86 215.07,111.91 215.39,111.95 215.72,112.00 216.05,112.04 216.37,112.09 216.70,112.14 217.02,112.18 217.35,112.23 217.68,112.28 218.00,112.33 218.33,112.38 218.65,112.42 218.98,112.47 219.31,112.52 219.63,112.58 219.96,112.63 220.28,112.68 220.61,112.73 220.94,112.78 221.26,112.84 221.59,112.89 221.91,112.94 222.24,113.00 222.57,113.05 222.89,113.11 223.22,113.17 223.54,113.22 223.87,113.28 224.20,113.34 224.52,113.39 224.85,113.45 225.17,113.51 225.50,113.57 225.83,113.63 226.15,113.69 226.48,113.75 226.80,113.81 227.13,113.88 227.46,113.94 227.78,114.00 228.11,114.06 228.43,114.13 228.76,114.19 229.09,114.26 229.41,114.32 229.74,114.39 230.06,114.46 230.39,114.52 230.72,114.59 231.04,114.66 231.37,114.73 231.69,114.80 232.02,114.87 232.35,114.94 232.67,115.01 233.00,115.08 233.32,115.15 233.65,115.22 233.98,115.29 234.30,115.37 234.63,115.44 234.95,115.51 235.28,115.59 235.61,115.66 235.93,115.74 236.26,115.81 236.58,115.89 236.91,115.97 237.24,116.05 237.56,116.12 237.89,116.20 238.21,116.28 238.54,116.36 238.87,116.44 239.19,116.52 239.52,116.61 239.84,116.69 240.17,116.77 240.50,116.85 240.82,116.94 241.15,117.02 241.47,117.11 241.80,117.19 242.13,117.28 242.45,117.36 242.78,117.45 243.10,117.54 243.43,117.62 243.76,117.71 244.08,117.80 244.41,117.89 244.73,117.98 245.06,118.07 245.39,118.16 245.71,118.25 246.04,118.35 246.36,118.44 246.69,118.53 247.02,118.63 247.34,118.72 247.67,118.82 247.99,118.91 248.32,119.01 248.65,119.10 248.97,119.20 249.30,119.30 249.62,119.40 249.95,119.49 250.28,119.59 250.60,119.69 250.93,119.79 251.25,119.89 251.58,120.00 251.91,120.10 252.23,120.20 252.56,120.30 252.88,120.41 253.21,120.51 253.54,120.62 253.86,120.72 254.19,120.83 254.51,120.93 254.84,121.04 255.17,121.15 255.49,121.26 255.82,121.36 256.14,121.47 256.47,121.58 256.80,121.69 257.12,121.80 257.45,121.91 257.77,122.03 258.10,122.14 258.43,122.25 258.75,122.36 259.08,122.48 259.40,122.59 259.73,122.71 260.06,122.82 260.38,122.94 260.71,123.05 261.03,123.17 261.36,123.29 261.69,123.41 262.01,123.53 262.34,123.64 262.66,123.76 262.99,123.88 263.32,124.00 263.64,124.13 263.97,124.25 264.29,124.37 264.62,124.49 264.95,124.62 265.27,124.74 265.60,124.86 265.92,124.99 266.25,125.11 266.58,125.24 266.90,125.36 267.23,125.49 267.55,125.62 267.88,125.75 268.21,125.87 268.53,126.00 268.86,126.13 269.18,126.26 269.51,126.39 269.84,126.52 270.16,126.65 270.49,126.78 270.81,126.91 271.14,127.05 271.47,127.18 271.79,127.31 272.12,127.45 272.44,127.58 272.77,127.71 273.10,127.85 273.42,127.99 273.75,128.12 274.07,128.26 274.40,128.39 274.73,128.53 275.05,128.67 275.38,128.81 275.70,128.94 276.03,129.08 276.36,129.22 276.68,129.36 277.01,129.50 277.33,129.64 277.66,129.78 277.99,129.92 278.31,130.06 278.64,130.21 278.96,130.35 279.29,130.49 279.62,130.63 279.94,130.78 280.27,130.92 280.59,131.06 280.92,131.21 281.25,131.35 281.57,131.50 281.90,131.64 282.22,131.79 282.55,131.93 282.88,132.08 283.20,132.22 283.53,132.37 283.85,132.52 284.18,132.66 284.51,132.81 284.83,132.96 285.16,133.11 285.48,133.25 285.81,133.40 286.14,133.55 286.46,133.70 286.79,133.85 287.11,134.00 287.44,134.15 287.77,134.30 288.09,134.45 288.42,134.60 288.74,134.75 289.07,134.90 289.40,135.05 289.72,135.20 290.05,135.35 290.37,135.50 290.70,135.65 291.03,135.80 291.35,135.95 291.68,136.10 292.00,136.26 292.33,136.41 292.66,136.56 292.98,136.71 293.31,136.86 293.63,137.02 293.96,137.17 294.29,137.32 294.61,137.47 294.94,137.62 295.26,137.78 295.59,137.93 295.92,138.08 296.24,138.23 296.57,138.38 296.89,138.54 297.22,138.69 297.55,138.84 297.87,138.99 298.20,139.14 298.52,139.30 298.85,139.45 299.18,139.60 299.50,139.75 299.83,139.90 300.15,140.05 300.48,140.20 300.81,140.36 301.13,140.51 301.46,140.66 301.78,140.81 302.11,140.96 302.44,141.11 302.76,141.26 303.09,141.41 303.41,141.56 303.74,141.71 304.07,141.86 304.39,142.01 304.72,142.16 305.04,142.30 305.37,142.45 305.70,142.60 306.02,142.75 306.35,142.89 306.67,143.04 307.00,143.19 307.33,143.33 307.65,143.48 307.98,143.63 308.30,143.77 308.63,143.92 308.96,144.06 309.28,144.21 309.61,144.35 309.93,144.49 310.26,144.63 310.59,144.78 310.91,144.92 311.24,145.06 311.56,145.20 311.89,145.34 312.22,145.48 312.54,145.62 312.87,145.76 313.19,145.90 313.52,146.04 313.85,146.17 314.17,146.31 314.50,146.45 314.82,146.58 315.15,146.72 315.48,146.85 315.80,146.98 316.13,147.12 316.45,147.25 316.78,147.38 317.11,147.51 317.43,147.64 317.76,147.77 318.08,147.90 318.41,148.03 318.74,148.16 319.06,148.28 319.39,148.41 319.71,148.53 320.04,148.66 320.37,148.78 320.69,148.90 321.02,149.03 321.34,149.15 321.67,149.27 322.00,149.39 322.32,149.50 322.65,149.62 322.97,149.74 323.30,149.85 323.63,149.97 323.95,150.08 324.28,150.20 324.60,150.31 324.93,150.42 325.26,150.53 325.58,150.64 325.91,150.74 326.23,150.85 326.56,150.96 326.89,151.06 327.21,151.17 327.54,151.27 327.86,151.37 328.19,151.47 328.52,151.57 328.84,151.67 329.17,151.76 329.49,151.86 329.82,151.95 330.15,152.05 330.47,152.14 330.80,152.23 331.12,152.32 331.45,152.41 331.78,152.50 332.10,152.58 332.43,152.67 332.75,152.75 333.08,152.83 333.41,152.91 333.73,152.99 334.06,153.07 334.38,153.15 334.71,153.22 335.04,153.29 335.36,153.37 335.69,153.44 336.01,153.51 336.34,153.58 336.67,153.64 336.99,153.71 337.32,153.77 337.64,153.83 337.97,153.89 338.30,153.95 338.62,154.01 338.95,154.07 339.27,154.12 339.60,154.17 339.93,154.23 340.25,154.28 340.58,154.32 340.90,154.37 341.23,154.42 341.56,154.46 341.88,154.50 342.21,154.54 342.53,154.58 342.86,154.61 343.19,154.65 343.51,154.68 343.84,154.71 344.16,154.74 344.49,154.77 344.82,154.80 345.14,154.82 345.47,154.84 345.79,154.86 346.12,154.88 346.45,154.90 346.77,154.91 347.10,154.93 347.42,154.94 347.75,154.95 348.08,154.95 348.40,154.96 348.73,154.96 349.05,154.96 349.38,154.96 349.71,154.96 350.03,154.96 350.36,154.95 350.68,154.94 351.01,154.93 351.34,154.92 351.66,154.90 351.99,154.89 352.31,154.87 352.64,154.85 352.97,154.82 353.29,154.80 353.62,154.77 353.94,154.74 354.27,154.71 354.60,154.67 354.92,154.64 355.25,154.60 355.57,154.56 355.90,154.51 356.23,154.47 356.55,154.42 356.88,154.37 357.20,154.32 357.53,154.27 357.86,154.21 358.18,154.15 358.51,154.09 358.83,154.02 359.16,153.96 359.49,153.89 359.81,153.82 360.14,153.74 360.46,153.67 360.79,153.59 361.12,153.51 361.44,153.43 361.77,153.34 362.09,153.25 362.42,153.16 362.75,153.07 363.07,152.97 363.40,152.88 363.72,152.77 364.05,152.67 364.38,152.56 364.70,152.46 365.03,152.35 365.35,152.23 365.68,152.11 366.01,152.00 366.33,151.87 366.66,151.75 366.98,151.62 367.31,151.49 367.64,151.36 367.96,151.23 368.29,151.09 368.61,150.95 368.94,150.80 369.27,150.66 369.59,150.51 369.92,150.36 370.24,150.20 370.57,150.04 370.90,149.88 371.22,149.72 371.55,149.55 371.87,149.39 372.20,149.21 372.53,149.04 372.85,148.86 373.18,148.68 373.50,148.50 373.83,148.31 374.16,148.12 374.48,147.93 374.81,147.73 375.13,147.54 375.46,147.33 375.79,147.13 376.11,146.92 376.44,146.71 376.76,146.50 377.09,146.28 377.42,146.06 377.74,145.84 378.07,145.61 378.39,145.38 378.72,145.15 379.05,144.92 379.37,144.68 379.70,144.44 380.02,144.19 380.35,143.94 380.68,143.69 381.00,143.44 381.33,143.18 381.65,142.92 381.98,142.65 382.31,142.39 382.63,142.12 382.96,141.84 383.28,141.57 383.61,141.28 383.94,141.00 384.26,140.71 384.59,140.42 384.91,140.13 385.24,139.83 385.57,139.53 385.89,139.23 386.22,138.92 386.54,138.61 386.87,138.29 387.20,137.97 387.52,137.65 387.85,137.33 388.17,137.00 388.50,136.67" stroke="#ff00ff" stroke-dasharray="0.820,1.230"/>
<polyline points="77.89,238.20 78.15,231.98 78.47,224.76 78.80,218.09 79.13,211.91 79.45,206.19 79.78,200.90 80.10,196.01 80.43,191.48 80.76,187.29 81.08,183.40 81.41,179.79 81.73,176.44 82.06,173.33 82.39,170.42 82.71,167.72 83.04,165.19 83.36,162.82 83.69,160.60 84.02,158.52 84.34,156.56 84.67,154.72 84.99,152.98 85.32,151.33 85.65,149.77 85.97,148.30 86.30,146.90 86.62,145.56 86.95,144.29 87.28,143.08 87.60,141.93 87.93,140.83 88.25,139.77 88.58,138.76 88.91,137.79 89.23,136.87 89.56,135.97 89.88,135.12 90.21,134.30 90.54,133.50 90.86,132.74 91.19,132.01 91.51,131.30 91.84,130.62 92.17,129.96 92.49,129.32 92.82,128.71 93.14,128.12 93.47,127.54 93.80,126.99 94.12,126.45 94.45,125.93 94.77,125.43 95.10,124.94 95.43,124.47 95.75,124.02 96.08,123.57 96.40,123.14 96.73,122.73 97.06,122.32 97.38,121.93 97.71,121.55 98.03,121.18 98.36,120.82 98.69,120.47 99.01,120.13 99.34,119.80 99.66,119.47 99.99,119.16 100.32,118.86 100.64,118.56 100.97,118.27 101.29,117.99 101.62,117.72 101.95,117.45 102.27,117.19 102.60,116.94 102.92,116.69 103.25,116.45 103.58,116.22 103.90,115.99 104.23,115.77 104.55,115.55 104.88,115.33 105.21,115.13 105.53,114.92 105.86,114.73 106.18,114.53 106.51,114.34 106.84,114.16 107.16,113.98 107.49,113.80 107.81,113.63 108.14,113.46 108.47,113.30 108.79,113.14 109.12,112.98 109.44,112.82 109.77,112.67 110.10,112.53 110.42,112.38 110.75,112.24 111.07,112.10 111.40,111.97 111.73,111.83 112.05,111.70 112.38,111.58 112.70,111.45 113.03,111.33 113.36,111.21 113.68,111.09 114.01,110.98 114.33,110.87 114.66,110.75 114.99,110.65 115.31,110.54 115.64,110.44 115.96,110.33 116.29,110.23 116.62,110.14 116.94,110.04 117.27,109.95 117.59,109.85 117.92,109.76 118.25,109.67 118.57,109.59 118.90,109.50 119.22,109.42 119.55,109.33 119.88,109.25 120.20,109.17 120.53,109.09 120.85,109.02 121.18,108.94 121.51,108.87 121.83,108.80 122.16,108.72 122.48,108.65 122.81,108.59 123.14,108.52 123.46,108.45 123.79,108.39 124.11,108.32 124.44,108.26 124.77,108.20 125.09,108.14 125.42,108.08 125.74,108.02 126.07,107.96 126.40,107.91 126.72,107.85 127.05,107.80 127.37,107.74 127.70,107.69 128.03,107.64 128.35,107.59 128.68,107.54 129.00,107.49 129.33,107.44 129.66,107.40 129.98,107.35 130.31,107.30 130.63,107.26 130.96,107.21 131.29,107.17 131.61,107.13 131.94,107.09 132.26,107.05 132.59,107.01 132.92,106.97 133.24,106.93 133.57,106.89 133.89,106.85 134.22,106.82 134.55,106.78 134.87,106.75 135.20,106.71 135.52,106.68 135.85,106.64 136.18,106.61 136.50,106.58 136.83,106.55 137.15,106.52 137.48,106.48 137.81,106.45 138.13,106.43 138.46,106.40 138.78,106.37 139.11,106.34 139.44,106.31 139.76,106.29 140.09,106.26 140.41,106.24 140.74,106.21 141.07,106.19 141.39,106.16 141.72,106.14 142.04,106.12 142.37,106.09 142.70,106.07 143.02,106.05 143.35,106.03 143.67,106.01 144.00,105.99 144.33,105.97 144.65,105.95 144.98,105.93 145.30,105.91 145.63,105.89 145.96,105.88 146.28,105.86 146.61,105.84 146.93,105.83 147.26,105.81 147.59,105.80 147.91,105.78 148.24,105.77 148.56,105.75 148.89,105.74 149.22,105.72 149.54,105.71 149.87,105.70 150.19,105.69 150.52,105.67 150.85,105.66 151.17,105.65 151.50,105.64 151.82,105.63 152.15,105.62 152.48,105.61 152.80,105.60 153.13,105.59 153.45,105.58 153.78,105.58 154.11,105.57 154.43,105.56 154.76,105.55 155.08,105.55 155.41,105.54 155.74,105.53 156.06,105.53 156.39,105.52 156.71,105.52 157.04,105.51 157.37,105.51 157.69,105.50 158.02,105.50 158.34,105.50 158.67,105.49 159.00,105.49 159.32,105.49 159.65,105.49 159.97,105.48 160.30,105.48 160.63,105.48 160.95,105.48 161.28,105.48 161.60,105.48 161.93,105.48 162.26,105.48 162.58,105.48 162.91,105.48 163.23,105.48 163.56,105.48 163.89,105.49 164.21,105.49 164.54,105.49 164.86,105.49 165.19,105.50 165.52,105.50 165.84,105.50 166.17,105.51 166.49,105.51 166.82,105.52 167.15,105.52 167.47,105.53 167.80,105.53 168.12,105.54 168.45,105.55 168.78,105.55 169.10,105.56 169.43,105.57 169.75,105.57 170.08,105.58 170.41,105.59 170.73,105.60 171.06,105.61 171.38,105.61 171.71,105.62 172.04,105.63 172.36,105.64 172.69,105.65 173.01,105.66 173.34,105.67 173.67,105.68 173.99,105.70 174.32,105.71 174.64,105.72 174.97,105.73 175.30,105.74 175.62,105.76 175.95,105.77 176.27,105.78 176.60,105.80 176.93,105.81 177.25,105.82 177.58,105.84 177.90,105.85 178.23,105.87 178.56,105.88 178.88,105.90 179.21,105.92 179.53,105.93 179.86,105.95 180.19,105.97 180.51,105.98 180.84,106.00 181.16,106.02 181.49,106.04 181.82,106.05 182.14,106.07 182.47,106.09 182.79,106.11 183.12,106.13 183.45,106.15 183.77,106.17 184.10,106.19 184.42,106.21 184.75,106.23 185.08,106.25 185.40,106.28 185.73,106.30 186.05,106.32 186.38,106.34 186.71,106.37 187.03,106.39 187.36,106.41 187.68,106.44 188.01,106.46 188.34,106.49 188.66,106.51 188.99,106.54 189.31,106.56 189.64,106.59 189.97,106.61 190.29,106.64 190.62,106.67 190.94,106.69 191.27,106.72 191.60,106.75 191.92,106.78 192.25,106.80 192.57,106.83 192.90,106.86 193.23,106.89 193.55,106.92 193.88,106.95 194.20,106.98 194.53,107.01 194.86,107.04 195.18,107.07 195.51,107.10 195.83,107.14 196.16,107.17 196.49,107.20 196.81,107.23 197.14,107.27 197.46,107.30 197.79,107.33 198.12,107.37 198.44,107.40 198.77,107.44 199.09,107.47 199.42,107.51 199.75,107.54 200.07,107.58 200.40,107.62 200.72,107.65 201.05,107.69 201.38,107.73 201.70,107.77 202.03,107.81 202.35,107.84 202.68,107.88 203.01,107.92 203.33,107.96 203.66,108.00 203.98,108.04 204.31,108.08 204.64,108.12 204.96,108.17 205.29,108.21 205.61,108.25 205.94,108.29 206.27,108.34 206.59,108.38 206.92,108.42 207.24,108.47 207.57,108.51 207.90,108.56 208.22,108.60 208.55,108.65 208.87,108.69 209.20,108.74 209.53,108.78 209.85,108.83 210.18,108.88 210.50,108.93 210.83,108.98 211.16,109.02 211.48,109.07 211.81,109.12 212.13,109.17 212.46,109.22 212.79,109.27 213.11,109.32 213.44,109.37 213.76,109.43 214.09,109.48 214.42,109.53 214.74,109.58 215.07,109.64 215.39,109.69 215.72,109.74 216.05,109.80 216.37,109.85 216.70,109.91 217.02,109.96 217.35,110.02 217.68,110.08 218.00,110.13 218.33,110.19 218.65,110.25 218.98,110.31 219.31,110.36 219.63,110.42 219.96,110.48 220.28,110.54 220.61,110.60 220.94,110.66 221.26,110.72 221.59,110.78 221.91,110.85 222.24,110.91 222.57,110.97 222.89,111.03 223.22,111.10 223.54,111.16 223.87,111.23 224.20,111.29 224.52,111.36 224.85,111.42 225.17,111.49 225.50,111.56 225.83,111.62 226.15,111.69 226.48,111.76 226.80,111.83 227.13,111.89 227.46,111.96 227.78,112.03 228.11,112.10 228.43,112.17 228.76,112.25 229.09,112.32 229.41,112.39 229.74,112.46 230.06,112.53 230.39,112.61 230.72,112.68 231.04,112.76 231.37,112.83 231.69,112.91 232.02,112.98 232.35,113.06 232.67,113.13 233.00,113.21 233.32,113.29 233.65,113.37 233.98,113.44 234.30,113.52 234.63,113.60 234.95,113.68 235.28,113.76 235.61,113.84 235.93,113.93 236.26,114.01 236.58,114.09 236.91,114.17 237.24,114.26 237.56,114.34 237.89,114.42 238.21,114.51 238.54,114.59 238.87,114.68 239.19,114.77 239.52,114.85 239.84,114.94 240.17,115.03 240.50,115.12 240.82,115.20 241.15,115.29 241.47,115.38 241.80,115.47 242.13,115.56 242.45,115.66 242.78,115.75 243.10,115.84 243.43,115.93 243.76,116.03 244.08,116.12 244.41,116.21 244.73,116.31 245.06,116.40 245.39,116.50 245.71,116.60 246.04,116.69 246.36,116.79 246.69,116.89 247.02,116.99 247.34,117.09 247.67,117.18 247.99,117.28 248.32,117.39 248.65,117.49 248.97,117.59 249.30,117.69 249.62,117.79 249.95,117.90 250.28,118.00 250.60,118.10 250.93,118.21 251.25,118.31 251.58,118.42 251.91,118.52 252.23,118.63 252.56,118.74 252.88,118.85 253.21,118.95 253.54,119.06 253.86,119.17 254.19,119.28 254.51,119.39 254.84,119.50 255.17,119.61 255.49,119.73 255.82,119.84 256.14,119.95 256.47,120.07 256.80,120.18 257.12,120.29 257.45,120.41 257.77,120.52 258.10,120.64 258.43,120.76 258.75,120.87 259.08,120.99 259.40,121.11 259.73,121.23 260.06,121.35 260.38,121.47 260.71,121.59 261.03,121.71 261.36,121.83 261.69,121.95 262.01,122.07 262.34,122.20 262.66,122.32 262.99,122.44 263.32,122.57 263.64,122.69 263.97,122.82 264.29,122.94 264.62,123.07 264.95,123.20 265.27,123.32 265.60,123.45 265.92,123.58 266.25,123.71 266.58,123.84 266.90,123.97 267.23,124.10 267.55,124.23 267.88,124.36 268.21,124.49 268.53,124.62 268.86,124.75 269.18,124.89 269.51,125.02 269.84,125.15 270.16,125.29 270.49,125.42 270.81,125.56 271.14,125.69 271.47,125.83 271.79,125.97 272.12,126.10 272.44,126.24 272.77,126.38 273.10,126.52 273.42,126.66 273.75,126.79 274.07,126.93 274.40,127.07 274.73,127.21 275.05,127.36 275.38,127.50 275.70,127.64 276.03,127.78 276.36,127.92 276.68,128.06 277.01,128.21 277.33,128.35 277.66,128.50 277.99,128.64 278.31,128.78 278.64,128.93 278.96,129.07 279.29,129.22 279.62,129.37 279.94,129.51 280.27,129.66 280.59,129.81 280.92,129.95 281.25,130.10 281.57,130.25 281.90,130.40 282.22,130.55 282.55,130.70 282.88,130.84 283.20,130.99 283.53,131.14 283.85,131.29 284.18,131.44 284.51,131.59 284.83,131.75 285.16,131.90 285.48,132.05 285.81,132.20 286.14,132.35 286.46,132.50 286.79,132.66 287.11,132.81 287.44,132.96 287.77,133.11 288.09,133.27 288.42,133.42 288.74,133.57 289.07,133.73 289.40,133.88 289.72,134.03 290.05,134.19 290.37,134.34 290.70,134.50 291.03,134.65 291.35,134.81 291.68,134.96 292.00,135.12 292.33,135.27 292.66,135.43 292.98,135.58 293.31,135.74 293.63,135.89 293.96,136.05 294.29,136.20 294.61,136.36 294.94,136.51 295.26,136.67 295.59,136.82 295.92,136.98 296.24,137.14 296.57,137.29 296.89,137.45 297.22,137.60 297.55,137.76 297.87,137.91 298.20,138.07 298.52,138.22 298.85,138.38 299.18,138.53 299.50,138.69 299.83,138.84 300.15,139.00 300.48,139.15 300.81,139.31 301.13,139.46 301.46,139.62 301.78,139.77 302.11,139.92 302.44,140.08 302.76,140.23 303.09,140.39 303.41,140.54 303.74,140.69 304.07,140.84 304.39,141.00 304.72,141.15 305.04,141.30 305.37,141.45 305.70,141.60 306.02,141.76 306.35,141.91 306.67,142.06 307.00,142.21 307.33,142.36 307.65,142.51 307.98,142.66 308.30,142.80 308.63,142.95 308.96,143.10 309.28,143.25 309.61,143.40 309.93,143.54 310.26,143.69 310.59,143.84 310.91,143.98 311.24,144.13 311.56,144.27 311.89,144.41 312.22,144.56 312.54,144.70 312.87,144.84 313.19,144.99 313.52,145.13 313.85,145.27 314.17,145.41 314.50,145.55 314.82,145.69 315.15,145.83 315.48,145.96 315.80,146.10 316.13,146.24 316.45,146.37 316.78,146.51 317.11,146.64 317.43,146.78 317.76,146.91 318.08,147.04 318.41,147.18 318.74,147.31 319.06,147.44 319.39,147.57 319.71,147.70 320.04,147.82 320.37,147.95 320.69,148.08 321.02,148.20 321.34,148.33 321.67,148.45 322.00,148.57 322.32,148.70 322.65,148.82 322.97,148.94 323.30,149.06 323.63,149.18 323.95,149.29 324.28,149.41 324.60,149.52 324.93,149.64 325.26,149.75 325.58,149.87 325.91,149.98 326.23,150.09 326.56,150.20 326.89,150.31 327.21,150.41 327.54,150.52 327.86,150.62 328.19,150.73 328.52,150.83 328.84,150.93 329.17,151.03 329.49,151.13 329.82,151.23 330.15,151.33 330.47,151.42 330.80,151.52 331.12,151.61 331.45,151.70 331.78,151.80 332.10,151.89 332.43,151.97 332.75,152.06 333.08,152.15 333.41,152.23 333.73,152.31 334.06,152.40 334.38,152.48 334.71,152.56 335.04,152.63 335.36,152.71 335.69,152.78 336.01,152.86 336.34,152.93 336.67,153.00 336.99,153.07 337.32,153.14 337.64,153.20 337.97,153.27 338.30,153.33 338.62,153.39 338.95,153.45 339.27,153.51 339.60,153.57 339.93,153.62 340.25,153.67 340.58,153.73 340.90,153.78 341.23,153.83 341.56,153.87 341.88,153.92 342.21,153.96 342.53,154.00 342.86,154.04 343.19,154.08 343.51,154.12 343.84,154.15 344.16,154.19 344.49,154.22 344.82,154.25 345.14,154.28 345.47,154.30 345.79,154.33 346.12,154.35 346.45,154.37 346.77,154.39 347.10,154.40 347.42,154.42 347.75,154.43 348.08,154.44 348.40,154.45 348.73,154.46 349.05,154.46 349.38,154.47 349.71,154.47 350.03,154.47 350.36,154.46 350.68,154.46 351.01,154.45 351.34,154.44 351.66,154.43 351.99,154.42 352.31,154.40 352.64,154.38 352.97,154.36 353.29,154.34 353.62,154.32 353.94,154.29 354.27,154.26 354.60,154.23 354.92,154.20 355.25,154.17 355.57,154.13 355.90,154.09 356.23,154.05 356.55,154.00 356.88,153.96 357.20,153.91 357.53,153.86 357.86,153.81 358.18,153.75 358.51,153.69 358.83,153.63 359.16,153.57 359.49,153.50 359.81,153.44 360.14,153.37 360.46,153.29 360.79,153.22 361.12,153.14 361.44,153.06 361.77,152.98 362.09,152.90 362.42,152.81 362.75,152.72 363.07,152.63 363.40,152.53 363.72,152.43 364.05,152.33 364.38,152.23 364.70,152.13 365.03,152.02 365.35,151.91 365.68,151.80 366.01,151.68 366.33,151.56 366.66,151.44 366.98,151.32 367.31,151.19 367.64,151.06 367.96,150.93 368.29,150.79 368.61,150.66 368.94,150.52 369.27,150.37 369.59,150.23 369.92,150.08 370.24,149.93 370.57,149.77 370.90,149.62 371.22,149.46 371.55,149.29 371.87,149.13 372.20,148.96 372.53,148.79 372.85,148.61 373.18,148.44 373.50,148.26 373.83,148.07 374.16,147.89 374.48,147.70 374.81,147.51 375.13,147.31 375.46,147.11 375.79,146.91 376.11,146.71 376.44,146.50 376.76,146.29 377.09,146.08 377.42,145.86 377.74,145.64 378.07,145.42 378.39,145.19 378.72,144.96 379.05,144.73 379.37,144.49 379.70,144.26 380.02,144.01 380.35,143.77 380.68,143.52 381.00,143.27 381.33,143.02 381.65,142.76 381.98,142.50 382.31,142.23 382.63,141.96 382.96,141.69 383.28,141.42 383.61,141.14 383.94,140.86 384.26,140.58 384.59,140.29 384.91,140.00 385.24,139.70 385.57,139.40 385.89,139.10 386.22,138.80 386.54,138.49 386.87,138.18 387.20,137.86 387.52,137.54 387.85,137.22 388.17,136.90 388.50,136.57" stroke="#00ffff" stroke-dasharray="4.920,1.640,0.820,1.640"/>
<polyline points="62.50,101.87 63.15,101.87 63.80,101.87 64.46,101.87 65.11,101.87 65.76,101.87 66.41,101.87 67.06,101.87 67.72,101.87 68.37,101.87 69.02,101.87 69.67,101.87 70.32,101.87 70.98,101.87 71.63,101.87 72.28,101.87 72.93,101.87 73.58,101.87 74.24,101.87 74.89,101.87 75.54,101.87 76.19,101.87 76.84,101.87 77.50,101.87 78.15,101.87 78.80,101.87 79.45,101.87 80.10,101.87 80.76,101.87 81.41,101.87 82.06,101.87 82.71,101.87 83.36,101.87 84.02,101.87 84.67,101.87 85.32,101.87 85.97,101.87 86.62,101.87 87.28,101.87 87.93,101.87 88.58,101.87 89.23,101.87 89.88,101.87 90.54,101.87 91.19,101.88 91.84,101.88 92.49,101.88 93.14,101.88 93.80,101.88 94.45,101.88 95.10,101.88 95.75,101.88 96.40,101.88 97.06,101.88 97.71,101.89 98.36,101.89 99.01,101.89 99.66,101.89 100.32,101.89 100.97,101.89 101.62,101.90 102.27,101.90 102.92,101.90 103.58,101.90 104.23,101.90 104.88,101.91 105.53,101.91 106.18,101.91 106.84,101.91 107.49,101.92 108.14,101.92 108.79,101.92 109.44,101.93 110.10,101.93 110.75,101.93 111.40,101.94 112.05,101.94 112.70,101.95 113.36,101.95 114.01,101.95 114.66,101.96 115.31,101.96 115.96,101.97 116.62,101.97 117.27,101.98 117.92,101.98 118.57,101.99 119.22,102.00 119.88,102.00 120.53,102.01 121.18,102.01 121.83,102.02 122.48,102.03 123.14,102.03 123.79,102.04 124.44,102.05 125.09,102.06 125.74,102.07 126.40,102.07 127.05,102.08 127.70,102.09 128.35,102.10 129.00,102.11 129.66,102.12 130.31,102.13 130.96,102.14 131.61,102.15 132.26,102.16 132.92,102.17 133.57,102.18 134.22,102.20 134.87,102.21 135.52,102.22 136.18,102.23 136.83,102.25 137.48,102.26 138.13,102.27 138.78,102.29 139.44,102.30 140.09,102.32 140.74,102.33 141.39,102.35 142.04,102.36 142.70,102.38 143.35,102.40 144.00,102.41 144.65,102.43 145.30,102.45 145.96,102.47 146.61,102.49 147.26,102.51 147.91,102.53 148.56,102.55 149.22,102.57 149.87,102.59 150.52,102.61 151.17,102.63 151.82,102.66 152.48,102.68 153.13,102.70 153.78,102.73 154.43,102.75 155.08,102.78 155.74,102.80 156.39,102.83 157.04,102.86 157.69,102.89 158.34,102.91 159.00,102.94 159.65,102.97 160.30,103.00 160.95,103.03 161.60,103.06 162.26,103.10 162.91,103.13 163.56,103.16 164.21,103.19 164.86,103.23 165.52,103.26 166.17,103.30 166.82,103.34 167.47,103.37 168.12,103.41 168.78,103.45 169.43,103.49 170.08,103.53 170.73,103.57 171.38,103.61 172.04,103.65 172.69,103.70 173.34,103.74 173.99,103.78 174.64,103.83 175.30,103.88 175.95,103.92 176.60,103.97 177.25,104.02 177.90,104.07 178.56,104.12 179.21,104.17 179.86,104.22 180.51,104.27 181.16,104.33 181.82,104.38 182.47,104.44 183.12,104.49 183.77,104.55 184.42,104.61 185.08,104.67 185.73,104.73 186.38,104.79 187.03,104.85 187.68,104.91 188.34,104.98 188.99,105.04 189.64,105.11 190.29,105.18 190.94,105.24 191.60,105.31 192.25,105.38 192.90,105.45 193.55,105.53 194.20,105.60 194.86,105.67 195.51,105.75 196.16,105.83 196.81,105.91 197.46,105.98 198.12,106.06 198.77,106.15 199.42,106.23 200.07,106.31 200.72,106.40 201.38,106.48 202.03,106.57 202.68,106.66 203.33,106.75 203.98,106.84 204.64,106.93 205.29,107.03 205.94,107.12 206.59,107.22 207.24,107.31 207.90,107.41 208.55,107.51 209.20,107.61 209.85,107.72 210.50,107.82 211.16,107.93 211.81,108.03 212.46,108.14 213.11,108.25 213.76,108.36 214.42,108.48 215.07,108.59 215.72,108.71 216.37,108.82 217.02,108.94 217.68,109.06 218.33,109.18 218.98,109.31 219.63,109.43 220.28,109.56 220.94,109.69 221.59,109.82 222.24,109.95 222.89,110.08 223.54,110.21 224.20,110.35 224.85,110.49 225.50,110.63 226.15,110.77 226.80,110.91 227.46,111.05 228.11,111.20 228.76,111.35 229.41,111.50 230.06,111.65 230.72,111.80 231.37,111.96 232.02,112.11 232.67,112.27 233.32,112.43 233.98,112.59 234.63,112.76 235.28,112.92 235.93,113.09 236.58,113.26 237.24,113.43 237.89,113.60 238.54,113.78 239.19,113.96 239.84,114.13 240.50,114.32 241.15,114.50 241.80,114.68 242.45,114.87 243.10,115.06 243.76,115.25 244.41,115.44 245.06,115.64 245.71,115.83 246.36,116.03 247.02,116.23 247.67,116.43 248.32,116.64 248.97,116.84 249.62,117.05 250.28,117.26 250.93,117.48 251.58,117.69 252.23,117.91 252.88,118.13 253.54,118.35 254.19,118.57 254.84,118.79 255.49,119.02 256.14,119.25 256.80,119.48 257.45,119.72 258.10,119.95 258.75,120.19 259.40,120.43 260.06,120.67 260.71,120.91 261.36,121.16 262.01,121.40 262.66,121.65 263.32,121.90 263.97,122.16 264.62,122.41 265.27,122.67 265.92,122.93 266.58,123.19 267.23,123.45 267.88,123.72 268.53,123.98 269.18,124.25 269.84,124.52 270.49,124.79 271.14,125.07 271.79,125.34 272.44,125.62 273.10,125.90 273.75,126.18 274.40,126.46 275.05,126.75 275.70,127.03 276.36,127.32 277.01,127.61 277.66,127.90 278.31,128.19 278.96,128.49 279.62,128.78 280.27,129.08 280.92,129.37 281.57,129.67 282.22,129.97 282.88,130.27 283.53,130.58 284.18,130.88 284.83,131.18 285.48,131.49 286.14,131.80 286.79,132.10 287.44,132.41 288.09,132.72 288.74,133.03 289.40,133.34 290.05,133.65 290.70,133.96 291.35,134.28 292.00,134.59 292.66,134.90 293.31,135.22 293.96,135.53 294.61,135.84 295.26,136.16 295.92,136.47 296.57,136.79 297.22,137.10 297.87,137.41 298.52,137.73 299.18,138.04 299.83,138.35 300.48,138.67 301.13,138.98 301.78,139.29 302.44,139.60 303.09,139.91 303.74,140.22 304.39,140.53 305.04,140.84 305.70,141.14 306.35,141.45 307.00,141.75 307.65,142.06 308.30,142.36 308.96,142.66 309.61,142.96 310.26,143.25 310.91,143.55 311.56,143.84 312.22,144.13 312.87,144.42 313.52,144.71 314.17,144.99 314.82,145.27 315.48,145.55 316.13,145.83 316.78,146.11 317.43,146.38 318.08,146.65 318.74,146.91 319.39,147.18 320.04,147.44 320.69,147.69 321.34,147.95 322.00,148.20 322.65,148.45 323.30,148.69 323.95,148.93 324.60,149.16 325.26,149.40 325.91,149.62 326.56,149.85 327.21,150.07 327.86,150.28 328.52,150.49 329.17,150.70 329.82,150.90 330.47,151.09 331.12,151.29 331.78,151.47 332.43,151.65 333.08,151.83 333.73,152.00 334.38,152.17 335.04,152.33 335.69,152.48 336.34,152.63 336.99,152.77 337.64,152.91 338.30,153.04 338.95,153.17 339.60,153.29 340.25,153.40 340.90,153.50 341.56,153.60 342.21,153.69 342.86,153.78 343.51,153.86 344.16,153.93 344.82,153.99 345.47,154.05 346.12,154.10 346.77,154.14 347.42,154.18 348.08,154.21 348.73,154.23 349.38,154.24 350.03,154.24 350.68,154.24 351.34,154.22 351.99,154.20 352.64,154.17 353.29,154.13 353.94,154.09 354.60,154.03 355.25,153.97 355.90,153.89 356.55,153.81 357.20,153.72 357.86,153.62 358.51,153.51 359.16,153.39 359.81,153.26 360.46,153.12 361.12,152.97 361.77,152.81 362.42,152.65 363.07,152.47 363.72,152.28 364.38,152.08 365.03,151.87 365.68,151.65 366.33,151.42 366.98,151.18 367.64,150.92 368.29,150.66 368.94,150.39 369.59,150.10 370.24,149.80 370.90,149.50 371.55,149.18 372.20,148.84 372.85,148.50 373.50,148.15 374.16,147.78 374.81,147.40 375.46,147.01 376.11,146.61 376.76,146.20 377.42,145.77 378.07,145.33 378.72,144.88 379.37,144.41 380.02,143.93 380.68,143.44 381.33,142.94 381.98,142.42 382.63,141.89 383.28,141.35 383.94,140.80 384.59,140.23 385.24,139.64 385.89,139.05 386.54,138.44 387.20,137.81 387.85,137.18 388.50,136.52" stroke="#000000" stroke-dasharray="2.460,2.460,0.820,2.460"/>
</g>
<g fill="none" stroke-width="1.50">
<path d="M342.10,44.40H374.80" stroke="#ff0000"/>
<path d="M342.10,55.78H374.80" stroke="#00ff00" stroke-dasharray="3.830,1.090"/>
<path d="M342.10,67.16H374.80" stroke="#0000ff" stroke-dasharray="1.640,2.460" stroke-dashoffset="-0.4"/>
<path d="M342.10,78.54H374.80" stroke="#ff00ff" stroke-dasharray="0.820,1.230" stroke-dashoffset="-0.33"/>
<path d="M342.10,89.92H374.80" stroke="#00ffff" stroke-dasharray="4.920,1.640,0.820,1.640" stroke-dashoffset="-0.33"/>
<path d="M342.10,101.30H374.80" stroke="#000000" stroke-dasharray="2.460,2.460,0.820,2.460" stroke-dashoffset="-0.15"/>
</g>
<g text-anchor="end">
<text transform="translate(336.00,48.30) scale(1.000,1.050)">a/L = 1/12</text>
<text transform="translate(336.00,59.68) scale(1.000,1.050)">a/L = 1/16</text>
<text transform="translate(336.00,71.06) scale(1.000,1.050)">a/L = 1/24</text>
<text transform="translate(336.00,82.44) scale(1.000,1.050)">a/L = 1/36</text>
<text transform="translate(336.00,93.82) scale(1.000,1.050)">a/L = 1/64</text>
<text transform="translate(336.00,105.20) scale(1.000,1.050)">continuum</text>
</g>
<path d="M62.50,33.70H388.50V238.20H62.50ZM127.70,238.20v-5.20M127.70,33.70v5.20M192.90,238.20v-5.20M192.90,33.70v5.20M258.10,238.20v-5.20M258.10,33.70v5.20M323.30,238.20v-5.20M323.30,33.70v5.20M62.50,67.78h5.20M388.50,67.78h-5.20M62.50,101.87h5.20M388.50,101.87h-5.20M62.50,135.95h5.20M388.50,135.95h-5.20M62.50,170.03h5.20M388.50,170.03h-5.20M62.50,204.12h5.20M388.50,204.12h-5.20" fill="none" stroke="#000" stroke-width="1.14" stroke-linejoin="miter"/>
<g text-anchor="end">
<text transform="translate(55.75,37.65) scale(1.000,1.050)">0.1</text>
<text transform="translate(55.75,71.73) scale(1.000,1.050)">0.05</text>
<text transform="translate(55.75,105.82) scale(1.000,1.050)">0</text>
<text transform="translate(55.75,139.90) scale(1.000,1.050)">-0.05</text>
<text transform="translate(55.75,173.98) scale(1.000,1.050)">-0.1</text>
<text transform="translate(55.75,208.07) scale(1.000,1.050)">-0.15</text>
<text transform="translate(55.75,242.15) scale(1.000,1.050)">-0.2</text>
</g>
<g text-anchor="middle">
<text transform="translate(64.00,253.40) scale(1.000,1.050)">0</text>
<text transform="translate(129.20,253.40) scale(1.000,1.050)">0.1</text>
<text transform="translate(194.40,253.40) scale(1.000,1.050)">0.2</text>
<text transform="translate(259.60,253.40) scale(1.000,1.050)">0.3</text>
<text transform="translate(324.80,253.40) scale(1.000,1.050)">0.4</text>
<text transform="translate(390.00,253.40) scale(1.000,1.050)">0.5</text>
<text transform="translate(225.50,20.15) scale(1.000,1.050)">WWC</text>
</g>
<text transform="translate(202.90,271.50) scale(1.000,1.050)">(8t)<tspan font-size="8.66" dx="0.60" dy="-4.86">1/2</tspan><tspan dy="4.86"> / L</tspan></text>
<text transform="translate(14.20,180.90) rotate(-90) scale(1.000,1.050)">δ<tspan dx="-1.00"> (</tspan><tspan dx="-0.50"> (8t)</tspan><tspan font-size="8.66" dx="0.60" dy="-4.86">1/2</tspan><tspan dx="0.10" dy="4.86"> /</tspan><tspan dx="0.00"> L,</tspan><tspan dx="-0.10"> a/L</tspan><tspan dx="0.70"> )</tspan></text>
</svg>
</div>
</body></html>
